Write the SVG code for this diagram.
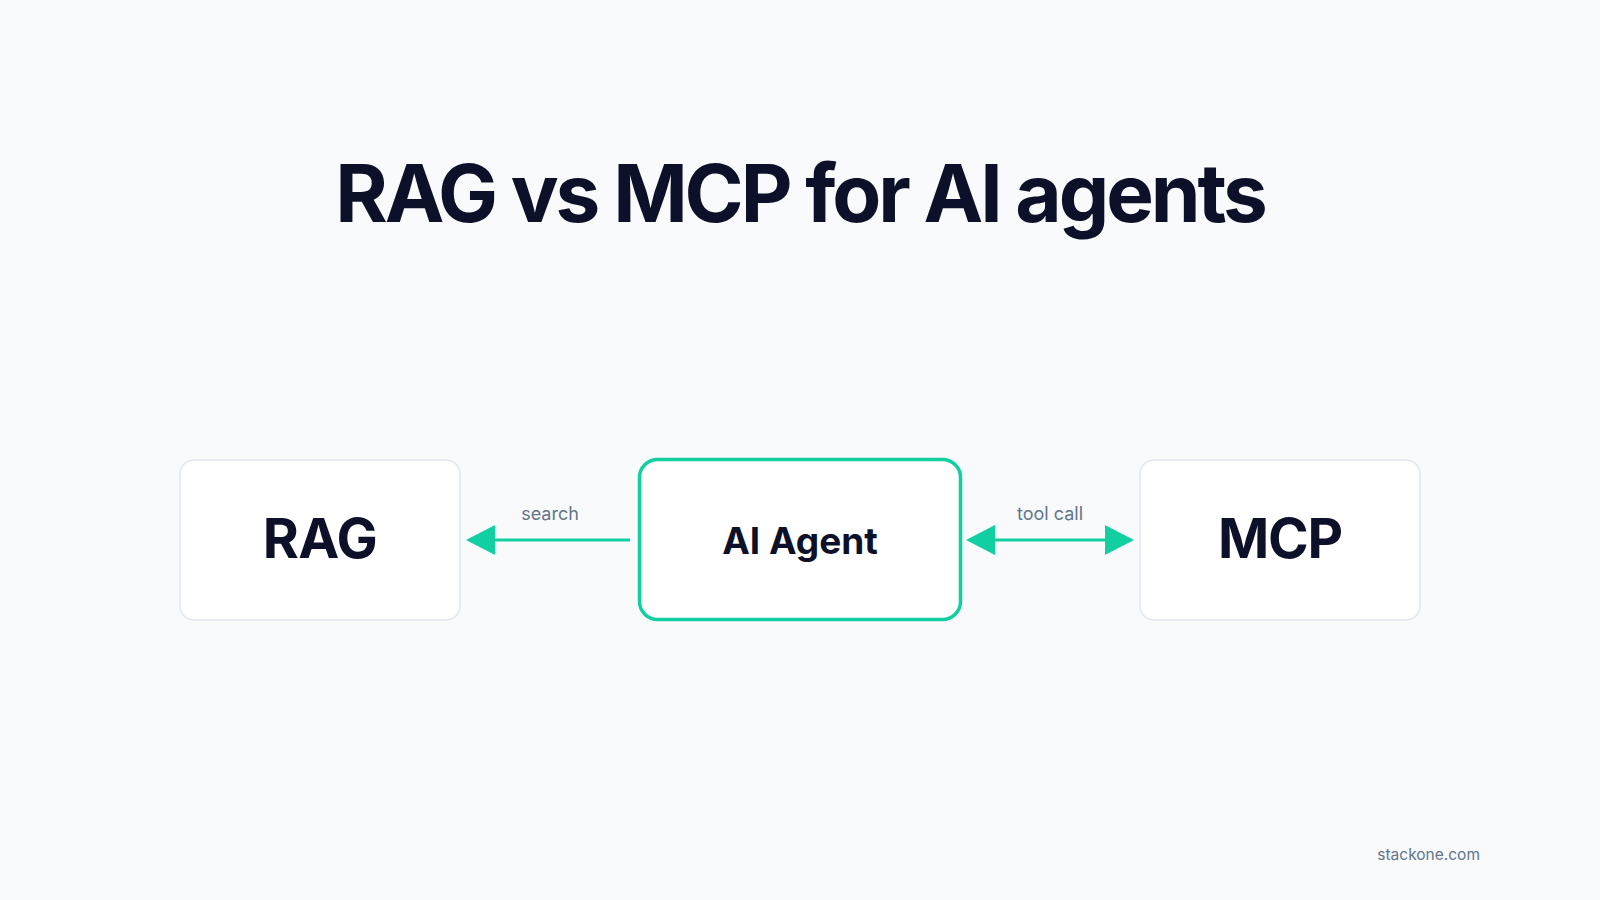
<svg xmlns="http://www.w3.org/2000/svg" width="1600" height="900" viewBox="0 0 1600 900">
  <style>
    .title { font-family: Inter, "Liberation Sans", sans-serif; font-weight: 700; font-size: 80px; fill: #0c1029; letter-spacing: -3.1px; }
    .box { fill: #ffffff; stroke: #e2e8f0; stroke-width: 1.5; }
    .agent { fill: #ffffff; stroke: #12cfa2; stroke-width: 3.5; }
    .big { font-family: Inter, "Liberation Sans", sans-serif; font-weight: 700; font-size: 55px; fill: #0c1029; letter-spacing: -0.5px; }
    .mid { font-family: Inter, "Liberation Sans", sans-serif; font-weight: 700; font-size: 37px; fill: #0c1029; letter-spacing: 0px; }
    .lbl { font-family: Inter, "Liberation Sans", sans-serif; font-weight: 400; font-size: 18px; fill: #64748b; }
    .foot { font-family: Inter, "Liberation Sans", sans-serif; font-weight: 400; font-size: 15.5px; fill: #64748b; }
    .conn { stroke: #12cfa2; stroke-width: 3; fill: none; }
    .head { fill: #12cfa2; }
  </style>
  <rect x="0" y="0" width="1600" height="900" fill="#f8fafc"/>
  <text class="title" x="800" y="222" text-anchor="middle">RAG vs MCP for AI agents</text>

  <g id="rag">
    <rect class="box" x="180" y="460" width="280" height="160" rx="14"/>
    <text class="big" x="320" y="558" text-anchor="middle">RAG</text>
  </g>
  <g id="agent">
    <rect class="agent" x="639.5" y="459.5" width="321" height="160" rx="18"/>
    <text class="mid" x="800" y="554" text-anchor="middle">AI Agent</text>
  </g>
  <g id="mcp">
    <rect class="box" x="1140" y="460" width="280" height="160" rx="14"/>
    <text class="big" x="1280" y="558" text-anchor="middle" style="letter-spacing:-1.2px">MCP</text>
  </g>

  <g id="connectors">
    <line class="conn" x1="630" y1="540" x2="494" y2="540"/>
    <polygon class="head" points="466,540 495,525 495,555"/>
    <text class="lbl" x="550" y="520" text-anchor="middle">search</text>

    <line class="conn" x1="994" y1="540" x2="1106" y2="540"/>
    <polygon class="head" points="966,540 995,525 995,555"/>
    <polygon class="head" points="1134,540 1105,525 1105,555"/>
    <text class="lbl" x="1050" y="520" text-anchor="middle">tool call</text>
  </g>

  <text class="foot" x="1480" y="860" text-anchor="end">stackone.com</text>
</svg>
